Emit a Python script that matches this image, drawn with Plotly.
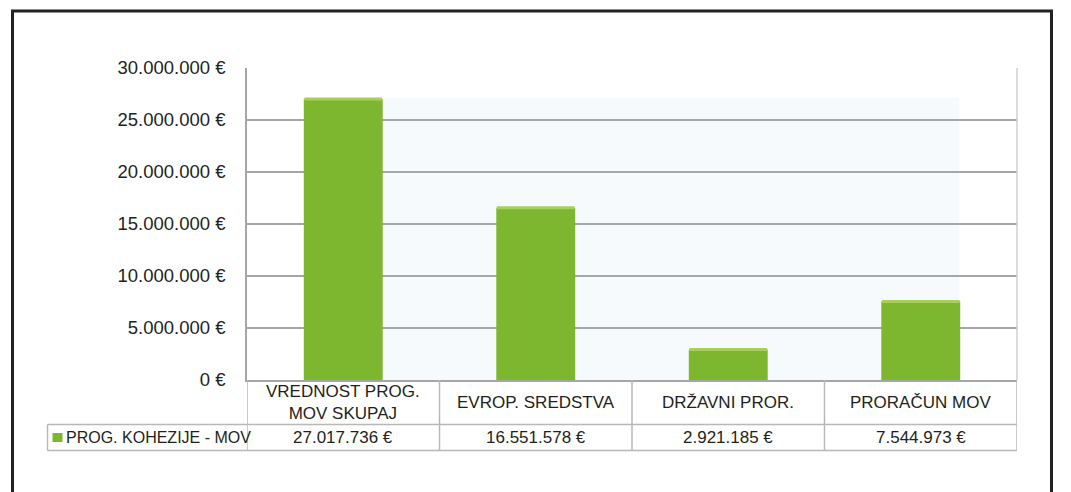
import plotly.graph_objects as go

categories = ["VREDNOST PROG.<br>MOV SKUPAJ", "EVROP. SREDSTVA", "DRŽAVNI PROR.", "PRORAČUN MOV"]
values = [27017736, 16551578, 2921185, 7544973]
value_labels = ["27.017.736 €", "16.551.578 €", "2.921.185 €", "7.544.973 €"]
series_name = "PROG. KOHEZIJE - MOV"
tick_vals = [0, 5000000, 10000000, 15000000, 20000000, 25000000, 30000000]
tick_text = ["0 €", "5.000.000 €", "10.000.000 €", "15.000.000 €", "20.000.000 €", "25.000.000 €", "30.000.000 €"]

FONT = "Liberation Sans, Arial, sans-serif"
GREEN = "#7db62f"
CAP = "#a8cf58"
GRID = "#a6a6a6"
TBL = "#b8b8b8"
TXT = "#231f20"

W, H = 1071, 492
ML, MR, MT, MB = 247, 54, 68, 112
PW = W - ML - MR
PH = H - MT - MB

def py(pix):
    # pixel row (from top of figure) -> paper y
    return (H - MB - pix) / PH

def px(pix):
    return (pix - ML) / PW

xs = list(range(len(categories)))

fig = go.Figure()
fig.add_trace(go.Bar(
    x=xs, y=values, width=0.41, name=series_name,
    marker=dict(color=GREEN, line=dict(width=0)),
    hoverinfo="skip",
))
# lighter top edge of each bar (3D look)
fig.add_trace(go.Scatter(
    x=xs, y=values, mode="markers", hoverinfo="skip", showlegend=False,
    marker=dict(symbol="line-ew", size=55.5, line=dict(color=CAP, width=3)),
))

shapes = []
# outer frame
shapes.append(dict(type="rect", xref="paper", yref="paper", x0=px(12.5), x1=px(1051.5),
                   y0=py(540), y1=py(11), line=dict(color="#222222", width=3), layer="above"))
# faint back wall shading
shapes.append(dict(type="rect", xref="x", yref="y", x0=0.2, x1=3.2, y0=0, y1=values[0] + 100000,
                   fillcolor="#f6fafd", line=dict(width=0), layer="below"))
# table: horizontal lines
y_head = py(424.5)
y_bot = py(450.5)
shapes.append(dict(type="line", xref="paper", yref="paper", x0=px(47.5), x1=1, y0=y_head, y1=y_head,
                   line=dict(color=TBL, width=1.5)))
shapes.append(dict(type="line", xref="paper", yref="paper", x0=px(47.5), x1=1, y0=y_bot, y1=y_bot,
                   line=dict(color=TBL, width=1.5)))
shapes.append(dict(type="line", xref="paper", yref="paper", x0=px(47.5), x1=px(47.5), y0=y_head, y1=y_bot,
                   line=dict(color=TBL, width=1.5)))
for b in [i - 0.5 for i in range(len(categories) + 1)]:
    shapes.append(dict(type="line", xref="x", yref="paper", x0=b, x1=b, y0=0, y1=y_bot,
                       line=dict(color=TBL, width=1.5)))
# legend swatch
shapes.append(dict(type="rect", xref="paper", yref="paper", x0=px(52.5), x1=px(62.5),
                   y0=py(442), y1=py(433), fillcolor=GREEN, line=dict(width=0)))

annotations = []
for i, c in enumerate(categories):
    annotations.append(dict(x=i, xref="x", y=py(402.5), yref="paper", text=c, showarrow=False,
                            font=dict(family=FONT, size=17, color=TXT), xanchor="center",
                            yanchor="middle"))
    annotations.append(dict(x=i, xref="x", y=py(437.5), yref="paper", text=value_labels[i], showarrow=False,
                            font=dict(family=FONT, size=17, color=TXT), xanchor="center",
                            yanchor="middle"))
annotations.append(dict(x=px(64), xref="paper", y=py(437.5), yref="paper", text=series_name, showarrow=False,
                        font=dict(family=FONT, size=16, color=TXT), xanchor="left", yanchor="middle"))

fig.update_layout(
    width=W, height=H,
    margin=dict(l=ML, r=MR, t=MT, b=MB),
    paper_bgcolor="white", plot_bgcolor="white",
    showlegend=False,
    font=dict(family=FONT, size=17, color=TXT),
    xaxis=dict(range=[-0.5, 3.5], showticklabels=False, showgrid=False, zeroline=False,
               showline=True, linecolor=GRID, linewidth=1.5, mirror=False, ticks=""),
    yaxis=dict(range=[0, 30000000], tickvals=tick_vals, ticktext=tick_text, showgrid=True,
               gridcolor=GRID, gridwidth=1.5, zeroline=False, showline=True, linecolor=GRID,
               linewidth=1.5, ticks="", ticklabelstandoff=16,
               tickfont=dict(family=FONT, size=18.5, color=TXT)),
    shapes=shapes,
    annotations=annotations,
)
# right border of plot area
fig.add_shape(type="line", xref="paper", yref="paper", x0=1, x1=1, y0=0, y1=1,
              line=dict(color="#d0d0d0", width=1.5))

fig.write_html("out.html", config={"displayModeBar": False},
               post_script="document.body.style.margin='0px';")
